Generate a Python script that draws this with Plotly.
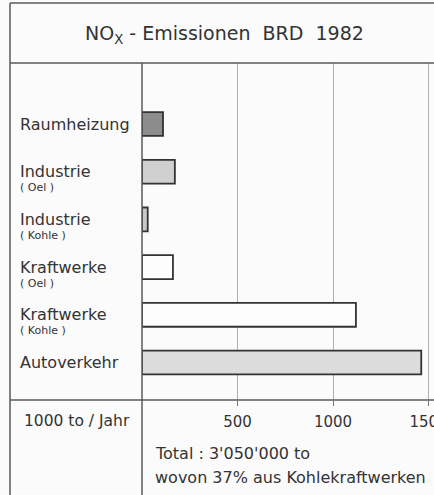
import plotly.graph_objects as go

categories = ["Raumheizung", "Industrie (Oel)", "Industrie (Kohle)",
              "Kraftwerke (Oel)", "Kraftwerke (Kohle)", "Autoverkehr"]
main_labels = ["Raumheizung", "Industrie", "Industrie", "Kraftwerke", "Kraftwerke", "Autoverkehr"]
sub_labels = ["", "( Oel )", "( Kohle )", "( Oel )", "( Kohle )", ""]
values = [110, 172, 30, 162, 1120, 1462]
fills = ["#8c8c8c", "#d0d0d0", "#c8c8c8", "#fdfdfd", "#fdfdfd", "#dcdcdc"]
tick_vals = [500, 1000, 1500]
tick_text = ["500", "1000", "1500"]

title_text = "NO<sub>X</sub> - Emissionen  BRD  1982"
unit_text = "1000 to / Jahr"
note1 = "Total : 3'050'000 to"
note2 = "wovon 37% aus Kohlekraftwerken"

FONT = "DejaVu Sans"
INK = "#333333"
LINE = "#5a5a5a"
BG = "#fbfbfb"

W, H = 434, 495
L, R, T, B = 142, 0, 63, 95
pw, ph = W - L - R, H - T - B


def px(x):
    return (x - L) / pw


def py(y):
    return (H - B - y) / ph


fig = go.Figure()
fig.add_trace(go.Bar(
    y=categories, x=values, orientation="h", width=0.5,
    marker=dict(color=fills, line=dict(color="#333333", width=1.8)),
    hoverinfo="x+y", showlegend=False,
))

annotations = []
for cat, m, s in zip(categories, main_labels, sub_labels):
    annotations.append(dict(x=px(18), xref="paper", y=cat, yref="y", text=m,
                            xanchor="left", yanchor="middle", showarrow=False,
                            font=dict(family=FONT, size=16, color=INK)))
    if s:
        annotations.append(dict(x=px(18), xref="paper", y=cat, yref="y", text=s,
                                xanchor="left", yanchor="middle", showarrow=False,
                                yshift=-16, font=dict(family=FONT, size=11, color=INK)))

annotations += [
    dict(x=px(224), xref="paper", y=py(34), yref="paper", text=title_text,
         xanchor="center", yanchor="middle", showarrow=False,
         font=dict(family=FONT, size=19, color=INK)),
    dict(x=px(22), xref="paper", y=py(421), yref="paper", text=unit_text,
         xanchor="left", yanchor="middle", showarrow=False,
         font=dict(family=FONT, size=15.5, color=INK)),
    dict(x=px(153), xref="paper", y=py(453), yref="paper", text=note1,
         xanchor="left", yanchor="middle", showarrow=False,
         font=dict(family=FONT, size=16, color=INK)),
    dict(x=px(153), xref="paper", y=py(477), yref="paper", text=note2,
         xanchor="left", yanchor="middle", showarrow=False,
         font=dict(family=FONT, size=16, color=INK)),
]

shapes = []
def hline(y, x0, x1):
    shapes.append(dict(type="line", xref="paper", yref="paper",
                       x0=px(x0), x1=px(x1), y0=py(y), y1=py(y),
                       line=dict(color=LINE, width=1.5)))
def vline(x, y0, y1):
    shapes.append(dict(type="line", xref="paper", yref="paper",
                       x0=px(x), x1=px(x), y0=py(y0), y1=py(y1),
                       line=dict(color=LINE, width=1.5)))

hline(3, 10, 440)
hline(63, 10, 440)
hline(400, 10, 440)
vline(10, 3, 500)
vline(142, 63, 500)

fig.update_layout(
    width=W, height=H,
    margin=dict(l=L, r=R, t=T, b=B, pad=0, autoexpand=False),
    paper_bgcolor=BG, plot_bgcolor=BG,
    annotations=annotations, shapes=shapes,
    xaxis=dict(range=[0, 500 * pw / 95.5], tickvals=tick_vals, ticktext=tick_text,
               ticks="outside", ticklen=5, tickcolor="#777777", tickwidth=1,
               showgrid=True, gridcolor="#b0b0b0", gridwidth=1,
               zeroline=False, showline=False, ticklabeloverflow="allow",
               automargin=False, ticklabelstandoff=3,
               tickfont=dict(family=FONT, size=15, color=INK)),
    yaxis=dict(range=[5.786, -1.279], showticklabels=False, ticks="",
               showgrid=False, zeroline=False, showline=False, automargin=False),
    bargap=0.5,
)

fig.write_html("out.html", config={"displayModeBar": False},
               post_script="document.body.style.margin='0';document.body.style.overflow='hidden';")
